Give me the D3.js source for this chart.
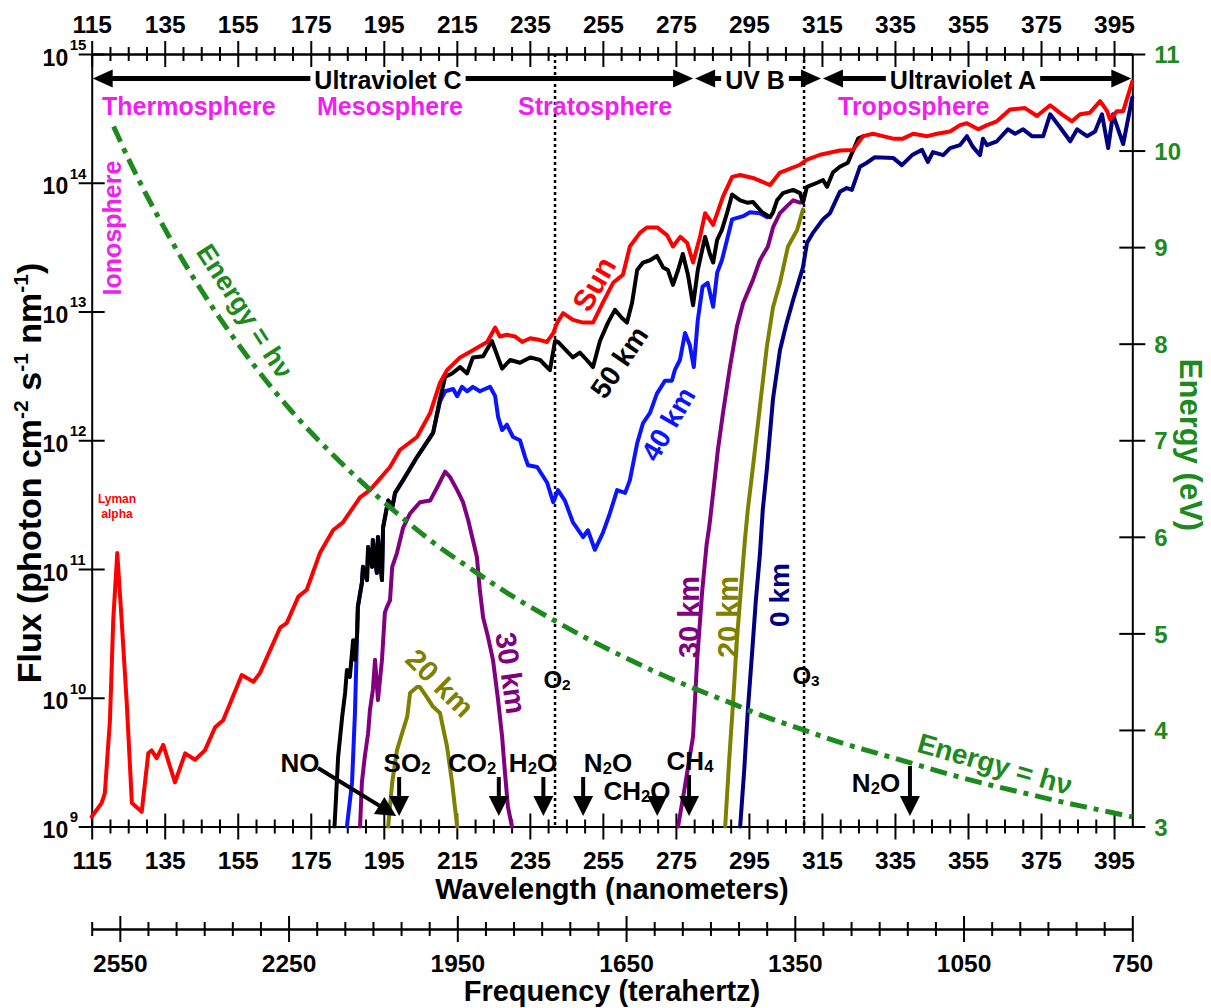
<!DOCTYPE html>
<html>
<head>
<meta charset="utf-8">
<title>Solar UV flux through the atmosphere</title>
<script src="https://cdn.jsdelivr.net/npm/d3@7/dist/d3.min.js"></script>
<style>
  html, body { margin: 0; padding: 0; background: #fff; }
  svg text { font-family: "Liberation Sans", Arial, Helvetica, sans-serif; font-weight: bold; }
</style>
</head>
<body>
<svg id="chart" width="1211" height="1008"></svg>
<script>
// ---------------- axis ticks ----------------
const wavelengthTicks = [115,135,155,175,195,215,235,255,275,295,315,335,355,375,395];
const frequencyTicks  = [2550,2250,1950,1650,1350,1050,750];
const fluxTicks       = [1e9,1e10,1e11,1e12,1e13,1e14,1e15];
const energyTicks     = [3,4,5,6,7,8,9,10,11];

// ---------------- spectra: [wavelength nm, photon flux] ----------------
const sun = [[115,1.19e9],[117.7,1.52e9],[118.6,1.82e9],[120.0,6.7e9],[120.9,4.0e10],[122.0,1.33e11],[123.2,4.0e10],[124.6,9.1e9],[126.0,1.52e9],[128.7,1.30e9],[130.5,3.7e9],[131.4,3.9e9],[132.8,3.4e9],[134.6,4.3e9],[137.8,2.2e9],[140.6,3.7e9],[143.3,3.3e9],[146.0,3.9e9],[148.8,5.9e9],[151.0,6.7e9],[156.1,1.50e10],[159.3,1.33e10],[161.1,1.56e10],[166.6,3.5e10],[168.4,3.8e10],[171.6,6.1e10],[173.9,6.9e10],[177.5,1.33e11],[181.1,2.0e11],[183.8,2.3e11],[188.5,3.6e11],[191.2,4.1e11],[196.7,6.2e11],[199.4,8.4e11],[204.1,1.06e12],[207.7,1.63e12],[210.4,2.8e12],[212.3,3.5e12],[215.9,4.4e12],[219.4,5.0e12],[223.3,5.8e12],[225.5,7.5e12],[226.8,6.4e12],[228.7,6.6e12],[230.9,6.4e12],[232.9,5.8e12],[235.1,6.2e12],[237.8,6.0e12],[239.7,5.8e12],[241.4,6.8e12],[242.5,8.2e12],[244.1,9.7e12],[246.8,8.6e12],[249.6,8.2e12],[252.3,8.2e12],[255.0,1.17e13],[257.8,1.67e13],[260.5,1.93e13],[262.4,3.2e13],[265.2,4.1e13],[267.1,4.5e13],[269.9,4.5e13],[272.6,3.9e13],[274.2,3.2e13],[276.2,3.8e13],[278.1,3.4e13],[279.7,2.4e13],[281.6,3.8e13],[283.0,5.8e13],[285.2,4.7e13],[287.9,7.8e13],[290.4,1.11e14],[292.6,1.15e14],[296.1,1.09e14],[300.8,9.6e13],[303.5,1.20e14],[309.0,1.38e14],[310.9,1.51e14],[314.5,1.65e14],[319.9,1.78e14],[323.5,1.80e14],[326.3,2.3e14],[329.0,2.4e14],[331.7,2.3e14],[334.5,2.2e14],[337.2,2.2e14],[340.0,2.4e14],[343.8,2.3e14],[346.5,2.4e14],[350.1,2.5e14],[352.8,2.8e14],[354.7,2.9e14],[357.8,2.6e14],[360.2,2.8e14],[362.9,3.0e14],[366.5,3.7e14],[370.6,3.8e14],[373.9,3.3e14],[377.5,4.0e14],[380.7,3.4e14],[383.5,3.0e14],[385.7,3.4e14],[388.4,3.5e14],[391.2,4.3e14],[393.1,3.6e14],[393.9,3.1e14],[395.8,3.6e14],[397.5,3.6e14],[400,6.1e14]];

const km50 = [[181.5,1.0e9],[182.5,3.5e9],[183.6,7.1e9],[184.4,1.09e10],[184.9,1.64e10],[185.7,1.45e10],[186.6,2.8e10],[187.1,1.97e10],[187.7,3.2e10],[187.9,5.1e10],[189.0,7.8e10],[189.3,1.04e11],[190.4,8.2e10],[190.7,1.48e11],[191.8,1.04e11],[192.0,1.68e11],[193.1,9.3e10],[193.4,1.77e11],[194.5,8.2e10],[194.8,2.1e11],[196.2,3.4e11],[197.3,3.0e11],[198.1,3.9e11],[200.3,4.9e11],[204.1,7.4e11],[208.5,1.14e12],[210.4,2.1e12],[211.8,3.1e12],[213.7,3.3e12],[215.9,3.7e12],[217.8,3.3e12],[219.4,4.4e12],[222.2,4.5e12],[224.6,5.9e12],[227.4,3.6e12],[229.6,4.2e12],[232.3,4.0e12],[235.1,4.4e12],[237.8,4.2e12],[240.5,3.5e12],[241.9,5.9e12],[242.7,5.8e12],[245.2,4.9e12],[246.8,4.4e12],[248.7,4.8e12],[250.6,4.2e12],[252.3,3.7e12],[254.2,5.9e12],[256.4,8.2e12],[258.3,1.03e13],[260.2,8.9e12],[261.6,8.2e12],[263.0,1.17e13],[264.4,2.1e13],[266.0,2.4e13],[267.9,2.5e13],[269.8,2.7e13],[271.5,2.2e13],[272.8,2.1e13],[274.2,1.61e13],[275.6,2.1e13],[276.9,2.8e13],[278.3,1.93e13],[279.7,1.12e13],[281.0,2.1e13],[283.0,3.8e13],[284.3,2.8e13],[285.2,2.4e13],[286.3,3.6e13],[287.6,4.3e13],[289.0,5.8e13],[290.4,8.1e13],[292.6,7.3e13],[294.5,7.0e13],[296.1,7.1e13],[298.6,5.9e13],[300.8,5.4e13],[301.6,5.9e13],[302.7,7.3e13],[304.3,8.3e13],[307.1,8.8e13],[309.0,8.3e13],[309.8,7.0e13],[310.9,9.3e13],[313.7,1.00e14],[315.3,1.05e14],[316.4,9.3e13],[318.0,1.20e14],[319.9,1.33e14],[322.1,1.43e14],[324.9,2.2e14],[326.3,2.3e14]];

const km40 = [[184.9,1.0e9],[186.3,2.2e9],[187.1,7.6e9],[187.7,3.2e10],[187.9,5.1e10],[189.0,7.8e10],[189.3,1.04e11],[190.4,8.2e10],[190.7,1.48e11],[191.8,1.04e11],[192.0,1.68e11],[193.1,9.3e10],[193.4,1.77e11],[194.5,8.2e10],[194.8,2.1e11],[196.2,3.4e11],[197.3,3.0e11],[198.1,3.9e11],[200.3,4.9e11],[204.1,7.4e11],[208.5,1.14e12],[210.4,2.0e12],[211.8,2.4e12],[214.0,2.5e12],[215.1,2.2e12],[216.4,2.6e12],[217.8,2.4e12],[219.4,2.6e12],[221.3,2.4e12],[222.7,2.5e12],[224.1,2.6e12],[225.5,2.2e12],[226.3,1.52e12],[227.4,1.20e12],[228.7,1.32e12],[230.4,1.06e12],[232.3,1.00e12],[233.7,7.4e11],[234.5,6.4e11],[237.0,6.2e11],[239.7,4.7e11],[241.4,3.3e11],[242.7,4.1e11],[244.6,3.4e11],[246.8,2.3e11],[249.6,1.77e11],[250.9,2.0e11],[252.8,1.41e11],[255.0,1.91e11],[256.9,2.7e11],[258.9,4.1e11],[261.1,3.9e11],[262.4,4.9e11],[264.4,9.5e11],[266.0,1.36e12],[267.9,1.63e12],[269.8,2.3e12],[272.0,2.9e12],[273.9,2.9e12],[274.7,3.5e12],[276.1,4.2e12],[277.5,6.8e12],[278.8,5.5e12],[279.9,3.7e12],[281.0,8.6e12],[282.3,1.56e13],[283.7,1.67e13],[285.2,1.09e13],[286.3,2.0e13],[287.6,2.5e13],[289.0,3.6e13],[290.4,5.2e13],[293.4,5.5e13],[295.3,5.9e13],[298.0,5.8e13],[300.0,5.4e13]];

const km30a = [[188.5,1.0e9],[189.0,2.2e9],[189.8,3.5e9],[190.7,5.3e9],[191.2,8.0e9],[192.0,1.15e10],[192.6,1.97e10],[193.4,9.6e9],[194.5,1.97e10],[195.3,4.6e10],[195.9,5.1e10],[196.7,5.7e10],[197.3,1.04e11],[198.6,1.33e11],[200.3,2.1e11],[202.2,2.7e11],[204.9,3.3e11],[207.7,3.4e11],[209.6,4.3e11],[211.8,5.7e11],[213.1,5.2e11],[215.1,4.1e11],[216.7,3.3e11],[218.1,2.4e11],[219.4,1.68e11],[220.5,1.24e11],[221.3,6.9e10],[222.2,4.2e10],[223.5,3.0e10],[224.9,1.97e10],[226.3,9.6e9],[227.4,5.0e9],[228.2,2.6e9],[229.0,1.42e9],[230.1,1.0e9]];

const km30b = [[275.6,1.0e9],[277.3,1.92e9],[279.7,5.0e9],[280.8,1.93e10],[282.2,6.7e10],[283.4,1.54e11],[284.2,2.2e11],[285.2,3.9e11],[286.5,8.4e11],[287.9,1.63e12],[289.8,3.7e12],[291.7,7.6e12],[293.4,1.16e13],[296.1,1.76e13],[298.0,2.5e13],[300.2,3.2e13],[301.6,4.5e13],[303.5,5.8e13],[305.7,6.7e13],[307.1,7.3e13],[309.0,7.0e13]];

const km20a = [[196.2,1.0e9],[197.3,2.2e9],[198.6,3.9e9],[200.0,5.3e9],[201.4,7.1e9],[202.2,1.09e10],[204.1,1.21e10],[204.9,1.21e10],[206.8,1.01e10],[208.5,8.5e9],[210.4,7.6e9],[211.2,5.9e9],[212.3,4.2e9],[213.7,2.2e9],[215.1,1.0e9]];

const km20b = [[288.5,1.0e9],[289.6,3.3e9],[290.7,9.6e9],[291.7,2.8e10],[292.8,6.9e10],[293.9,1.68e11],[294.7,2.9e11],[296.1,6.2e11],[298.0,1.81e12],[299.9,5.3e12],[301.6,1.08e13],[303.5,1.67e13],[305.7,3.2e13],[308.2,4.3e13],[309.8,6.2e13]];

const km0 = [[292.6,1.0e9],[293.7,2.7e9],[294.7,8.0e9],[295.8,2.1e10],[296.9,5.7e10],[298.0,1.29e11],[298.8,2.9e11],[299.9,5.9e11],[301.6,2.1e12],[303.5,5.0e12],[305.2,7.9e12],[307.1,1.23e13],[309.8,2.2e13],[310.9,3.4e13],[312.6,4.1e13],[315.3,5.2e13],[317.2,5.8e13],[319.9,8.5e13],[321.8,9.1e13],[323.2,8.8e13],[325.4,1.33e14],[327.3,1.43e14],[329.5,1.58e14],[334.5,1.56e14],[336.9,1.37e14],[339.7,1.64e14],[342.4,1.80e14],[344.0,1.45e14],[345.4,1.73e14],[348.2,1.64e14],[350.1,1.86e14],[352.8,1.96e14],[354.7,2.3e14],[356.4,1.89e14],[358.3,1.64e14],[359.1,2.2e14],[360.2,1.96e14],[362.9,2.1e14],[365.9,2.6e14],[367.9,2.4e14],[370.1,2.6e14],[372.5,2.3e14],[375.6,2.3e14],[377.5,3.4e14],[380.2,2.7e14],[383.0,2.1e14],[384.9,2.6e14],[387.6,2.3e14],[389.8,2.5e14],[391.7,3.4e14],[393.4,1.86e14],[394.7,3.4e14],[397.5,2.0e14],[400,4.6e14]];

// photon energy (eV) against wavelength (nm)
const energyNm = [121,125,130,140,150,160,170,180,190,200,210,220,230,240,250,260,270,280,290,300,310,320,330,340,350,360,370,380,390,400];
const energyEv = [10.25,9.92,9.54,8.86,8.27,7.75,7.29,6.89,6.53,6.20,5.90,5.64,5.39,5.17,4.96,4.77,4.59,4.43,4.28,4.13,4.00,3.87,3.76,3.65,3.54,3.44,3.35,3.26,3.18,3.10];

// UV bands (nm)
const bands = [
  {name: "Ultraviolet C", from: 115, to: 280},
  {name: "UV B",          from: 280, to: 315},
  {name: "Ultraviolet A", from: 315, to: 400}
];

// absorbers: label pieces [text, subscript?] and absorption wavelength (nm)
const absorbers = [
  {parts: [["NO",0]],               nm: 198.4},
  {parts: [["SO",0],["2",1]],       nm: 199.2},
  {parts: [["CO",0],["2",1]],       nm: 226.5},
  {parts: [["H",0],["2",1],["O",0]],nm: 238.7},
  {parts: [["N",0],["2",1],["O",0]],nm: 249.6},
  {parts: [["CH",0],["2",1],["O",0]],nm: 269.9},
  {parts: [["CH",0],["4",1]],       nm: 278.6},
  {parts: [["N",0],["2",1],["O",0]],nm: 339.1}
];
const dissociation = [{parts: [["O",0],["2",1]], nm: 241.9}, {parts: [["O",0],["3",1]], nm: 310.1}];

// ---------------- layout ----------------
const plotL = 91.7, plotR = 1132.3, plotT = 54, plotB = 826.5, freqY = 929;
const GREEN = "#1e8a1e", MAGENTA = "#f01ef0";

const svg = d3.select("#chart");
const x  = d3.scaleLinear().domain([115, 400]).range([plotL, plotR]);
const y  = d3.scaleLog().domain([1e9, 1e15]).range([plotB, plotT]);
const yE = d3.scaleLinear().domain([3, 11]).range([plotB, plotT]);
const xF = d3.scaleLinear().domain([2600, 750]).range([plotL, plotR]);

function inkAxis(g, size) {
  g.attr("font-size", size).attr("fill", null);
  g.select(".domain").attr("stroke", "#000").attr("stroke-width", 2);
  g.selectAll(".tick line").attr("stroke", "#000").attr("stroke-width", 2);
  g.selectAll(".tick text").attr("fill", "#000");
}

// horizontal wavelength axes (top and bottom), ticks crossing the line
const wlMinor = d3.range(120, 400, 5).filter(v => (v - 115) % 20 !== 0);
function wavelengthAxis(ypos, labelY) {
  const gm = svg.append("g").attr("transform", `translate(0,${ypos})`)
    .call(d3.axisBottom(x).tickValues(wlMinor).tickFormat("").tickSizeOuter(0));
  inkAxis(gm, 24);
  gm.selectAll(".tick line").attr("y1", -7).attr("y2", 7);
  const g = svg.append("g").attr("transform", `translate(0,${ypos})`)
    .call(d3.axisBottom(x).tickValues(wavelengthTicks).tickFormat(d3.format("d")).tickSizeOuter(0));
  inkAxis(g, 24.5);
  g.selectAll(".tick line").attr("y1", -13).attr("y2", 13);
  g.selectAll(".tick text").attr("y", labelY).attr("dy", 0);
}
wavelengthAxis(plotB, 42.5);
wavelengthAxis(plotT, -21);

// frequency axis
const fMinor = d3.range(2600, 749, -50).filter(v => !frequencyTicks.includes(v));
{
  const gm = svg.append("g").attr("transform", `translate(0,${freqY})`)
    .call(d3.axisBottom(xF).tickValues(fMinor).tickFormat("").tickSizeOuter(0));
  inkAxis(gm, 24);
  gm.selectAll(".tick line").attr("y1", -7).attr("y2", 7);
  const g = svg.append("g").attr("transform", `translate(0,${freqY})`)
    .call(d3.axisBottom(xF).tickValues(frequencyTicks).tickFormat(d3.format("d")).tickSizeOuter(0));
  inkAxis(g, 24.5);
  g.selectAll(".tick line").attr("y1", -13).attr("y2", 13);
  g.selectAll(".tick text").attr("y", 42.7).attr("dy", 0);
}

// left flux axis with power-of-ten labels
{
  const g = svg.append("g").attr("transform", `translate(${plotL},0)`)
    .call(d3.axisLeft(y).tickValues(fluxTicks).tickFormat("").tickSizeOuter(0));
  inkAxis(g, 23);
  g.selectAll(".tick line").attr("x1", -13).attr("x2", 13);
  g.selectAll(".tick").each(function (d) {
    const t = d3.select(this);
    t.append("text").attr("x", -23.5).attr("y", 3).attr("dy", "0.35em")
      .attr("text-anchor", "end").attr("font-size", 23).attr("fill", "#000").text("10");
    t.append("text").attr("x", -22).attr("y", -10).attr("dy", "0.35em")
      .attr("text-anchor", "start").attr("font-size", 15).attr("fill", "#000")
      .text(Math.round(Math.log10(d)));
  });
}

// right energy axis
{
  const g = svg.append("g").attr("transform", `translate(${plotR},0)`)
    .call(d3.axisRight(yE).tickValues(energyTicks).tickFormat(d3.format("d")).tickSizeOuter(0));
  inkAxis(g, 24);
  g.selectAll(".tick line").attr("x1", -13).attr("x2", 13);
  g.selectAll(".tick text").attr("x", 22).attr("dy", "0.36em").attr("fill", GREEN);
}

// axis titles
svg.append("text").attr("x", (plotL + plotR) / 2).attr("y", 899).attr("text-anchor", "middle")
  .attr("font-size", 29).text("Wavelength (nanometers)");
svg.append("text").attr("x", (plotL + plotR) / 2).attr("y", 1001).attr("text-anchor", "middle")
  .attr("font-size", 29).text("Frequency (terahertz)");
{
  const t = svg.append("text").attr("transform", "translate(41,473) rotate(-90)")
    .attr("text-anchor", "middle").attr("font-size", 34);
  t.append("tspan").text("Flux (photon cm");
  t.append("tspan").attr("font-size", 21).attr("dy", -13).text("-2");
  t.append("tspan").attr("dy", 13).text(" s");
  t.append("tspan").attr("font-size", 21).attr("dy", -13).text("-1");
  t.append("tspan").attr("dy", 13).text(" nm");
  t.append("tspan").attr("font-size", 21).attr("dy", -13).text("-1");
  t.append("tspan").attr("dy", 13).text(")");
}
svg.append("text").attr("transform", "translate(1180,445) rotate(90)").attr("text-anchor", "middle")
  .attr("font-size", 31).attr("fill", GREEN).text("Energy (eV)");

// dissociation limits (dotted)
dissociation.forEach(d => {
  svg.append("line").attr("x1", x(d.nm)).attr("x2", x(d.nm)).attr("y1", plotT).attr("y2", plotB)
    .attr("stroke", "#000").attr("stroke-width", 2.5).attr("stroke-dasharray", "3,3");
});

// spectra
const line = d3.line().x(d => x(d[0])).y(d => y(d[1]));
const series = [
  {data: km20a, color: "#808000"},
  {data: km20b, color: "#808000"},
  {data: km30a, color: "#800080"},
  {data: km30b, color: "#800080"},
  {data: km0,   color: "#000080"},
  {data: km40,  color: "#0a14ff"},
  {data: km50,  color: "#000000"},
  {data: sun,   color: "#ff0000"}
];
series.forEach(s => {
  svg.append("path").datum(s.data).attr("d", line).attr("fill", "none")
    .attr("stroke", s.color).attr("stroke-width", 4)
    .attr("stroke-linejoin", "round").attr("stroke-linecap", "round");
});

// photon energy curve
const energyLine = d3.line().curve(d3.curveCatmullRom)
  .x((d, i) => x(energyNm[i])).y(d => yE(d));
svg.append("path").datum(energyEv).attr("d", energyLine).attr("fill", "none")
  .attr("stroke", GREEN).attr("stroke-width", 5).attr("stroke-dasharray", "17,7,5,7");

// ---------------- annotations ----------------
function head(tx, ty, ux, uy, len, half, color) {
  // arrowhead with tip (tx,ty) pointing along unit vector (ux,uy)
  const bx = tx - ux * len, by = ty - uy * len;
  const px = -uy, py = ux;
  svg.append("polygon").attr("fill", color)
    .attr("points", `${tx},${ty} ${bx + px * half},${by + py * half} ${bx - px * half},${by - py * half}`);
}

// UV band arrows
const bandY = 78.5;
const bandCenters = [388, 755, 963];
bands.forEach((b, i) => {
  const t = svg.append("text").attr("x", bandCenters[i]).attr("y", 89).attr("text-anchor", "middle")
    .attr("font-size", 25).text(b.name);
  const w = t.node().getComputedTextLength();
  const x0 = x(b.from), x1 = x(b.to);
  const tl = bandCenters[i] - w / 2 - 4, tr = bandCenters[i] + w / 2 + 4;
  svg.append("line").attr("x1", x0 + 10).attr("x2", tl).attr("y1", bandY).attr("y2", bandY)
    .attr("stroke", "#000").attr("stroke-width", 5);
  svg.append("line").attr("x1", tr).attr("x2", x1 - 10).attr("y1", bandY).attr("y2", bandY)
    .attr("stroke", "#000").attr("stroke-width", 5);
  head(x0 + 1, bandY, -1, 0, 20, 9, "#000");
  head(x1 - 1, bandY, 1, 0, 20, 9, "#000");
});

// atmosphere layers
[["Thermosphere", 102], ["Mesosphere", 317], ["Stratosphere", 518], ["Troposphere", 838]].forEach(([s, px]) => {
  svg.append("text").attr("x", px).attr("y", 115).attr("font-size", 25).attr("fill", MAGENTA).text(s);
});
svg.append("text").attr("transform", "translate(121,228) rotate(-90)").attr("text-anchor", "middle")
  .attr("font-size", 25).attr("fill", MAGENTA).text("Ionosphere");

// Lyman alpha
svg.append("text").attr("x", 117).attr("y", 503).attr("text-anchor", "middle")
  .attr("font-size", 12).attr("fill", "#ff0000").text("Lyman");
svg.append("text").attr("x", 117).attr("y", 518).attr("text-anchor", "middle")
  .attr("font-size", 12).attr("fill", "#ff0000").text("alpha");

// curve labels
function rotLabel(txt, cx, cy, angle, color, size) {
  svg.append("text").attr("transform", `translate(${cx},${cy}) rotate(${angle})`)
    .attr("text-anchor", "middle").attr("dy", "0.35em")
    .attr("fill", color).attr("font-size", size).text(txt);
}
rotLabel("Sun", 594, 284, -60, "#ff0000", 30);
rotLabel("50 km", 619, 362, -56, "#000000", 28);
rotLabel("40 km", 668, 424, -60, "#0a14ff", 28);
rotLabel("30 km", 511, 673, 82, "#800080", 29);
rotLabel("20 km", 440, 683, 45, "#808000", 29);
rotLabel("30 km", 689, 617, -90, "#800080", 29);
rotLabel("20 km", 728, 617, -90, "#808000", 29);
rotLabel("0 km", 779, 595, -90, "#000080", 28);
rotLabel("Energy = h\u03bd", 245, 311, 57, GREEN, 27);
rotLabel("Energy = h\u03bd", 995, 764, 16, GREEN, 28);

// chemical labels
function chem(parts, cx, base, size) {
  const t = svg.append("text").attr("x", cx).attr("y", base).attr("text-anchor", "middle").attr("font-size", size);
  let shifted = false;
  parts.forEach(([s, sub]) => {
    const sp = t.append("tspan").text(s);
    if (sub) { sp.attr("font-size", size * 0.64).attr("dy", 2); shifted = true; }
    else if (shifted) { sp.attr("dy", -2); shifted = false; }
  });
  return t;
}
const labelSpots = [
  {cx: 300, base: 772, stemTop: null},
  {cx: 407, base: 772, stemTop: 777},
  {cx: 472, base: 772, stemTop: 777},
  {cx: 533, base: 772, stemTop: 777},
  {cx: 608, base: 772, stemTop: 777},
  {cx: 637, base: 800, stemTop: null},
  {cx: 690, base: 770, stemTop: 775},
  {cx: 876, base: 792, stemTop: 766}
];
const tipY = 816;
absorbers.forEach((a, i) => {
  const p = labelSpots[i];
  chem(a.parts, p.cx, p.base, 26);
  const ax = x(a.nm);
  if (i === 0) {
    // NO: diagonal pointer
    const sx = 318, sy = 768, dx = ax - sx, dy = tipY - sy, L = Math.hypot(dx, dy);
    const ux = dx / L, uy = dy / L;
    svg.append("line").attr("x1", sx).attr("y1", sy).attr("x2", ax - ux * 16).attr("y2", tipY - uy * 16)
      .attr("stroke", "#000").attr("stroke-width", 4);
    head(ax, tipY, ux, uy, 20, 10, "#000");
  } else {
    if (p.stemTop !== null) {
      svg.append("line").attr("x1", ax).attr("x2", ax).attr("y1", p.stemTop).attr("y2", tipY - 18)
        .attr("stroke", "#000").attr("stroke-width", 4);
    }
    head(ax, tipY, 0, 1, 20, 10, "#000");
  }
});
dissociation.forEach((d, i) => {
  chem(d.parts, x(d.nm) + 2, i === 0 ? 688 : 684, 24);
});
</script>
</body>
</html>
